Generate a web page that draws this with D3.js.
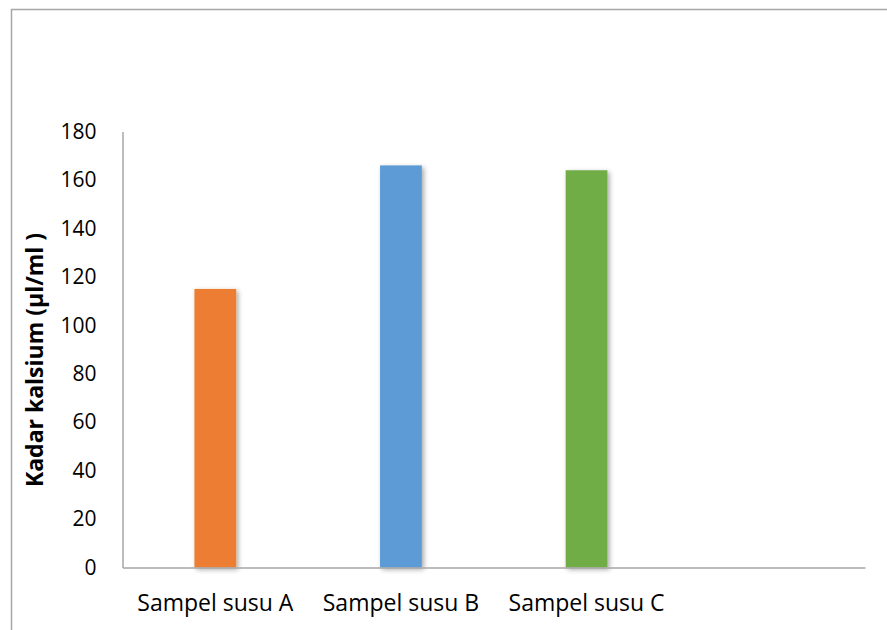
<!DOCTYPE html>
<html>
<head>
<meta charset="utf-8">
<script src="https://cdn.jsdelivr.net/npm/d3@7/dist/d3.min.js"></script>
<style>
  html, body { margin: 0; padding: 0; overflow: hidden; background: #fff; }
  svg { display: block; font-family: 'Open Sans', 'Liberation Sans', sans-serif; }
</style>
</head>
<body>
<svg width="887" height="630"></svg>
<script>
const categories = ['Sampel susu A', 'Sampel susu B', 'Sampel susu C', '']
const values = [115, 166, 164, null]
const barColors = ['#ed7d31', '#5b9bd5', '#70ad47', '#999']
const yTicks = [0, 20, 40, 60, 80, 100, 120, 140, 160, 180]
const yTitle = 'Kadar kalsium (µl/ml )'

const width = 887
const height = 630
const margin = { top: 131.5, right: 22, bottom: 62.5, left: 122.5 }

const svg = d3.select('svg')

// outer frame: only top and left edges fall inside the picture
svg.append('path')
  .attr('d', 'M11.5,640V9.5H900')
  .attr('fill', 'none')
  .attr('stroke', '#a6a6a6')
  .attr('stroke-width', 1.5)

// soft shadow behind bars
const defs = svg.append('defs')
const filter = defs.append('filter')
  .attr('id', 'shadow')
  .attr('x', '-30%').attr('y', '-10%')
  .attr('width', '160%').attr('height', '130%')
filter.append('feDropShadow')
  .attr('dx', 2)
  .attr('dy', 2)
  .attr('stdDeviation', 2.5)
  .attr('flood-color', '#000')
  .attr('flood-opacity', 0.35)

// scales
const xScale = d3.scaleBand()
  .domain(categories.map((c, i) => i))
  .range([margin.left, width - margin.right])
  .paddingInner(0.775)
  .paddingOuter(0.3875)

const yScale = d3.scaleLinear()
  .domain([0, 180])
  .range([height - margin.bottom, margin.top])

// bars
svg.append('g')
  .selectAll('rect')
  .data(values.map((v, i) => ({ v, i })).filter(d => d.v != null))
  .enter().append('rect')
  .attr('x', d => xScale(d.i))
  .attr('width', xScale.bandwidth())
  .attr('y', d => yScale(d.v))
  .attr('height', d => yScale(0) - yScale(d.v))
  .attr('fill', d => barColors[d.i])
  .attr('filter', 'url(#shadow)')

// y axis
const yAxis = d3.axisLeft(yScale)
  .tickValues(yTicks)
  .tickSize(0)
  .tickPadding(26)

const gy = svg.append('g')
  .attr('transform', `translate(${margin.left},0)`)
  .call(yAxis)
gy.select('.domain').attr('stroke', '#a6a6a6').attr('stroke-width', 1.5)
gy.selectAll('text')
  .attr('font-size', 21)
  .attr('fill', '#000')
  .attr('font-family', 'Open Sans, sans-serif')

// x axis
const xAxis = d3.axisBottom(xScale)
  .tickFormat(i => categories[i])
  .tickSize(0)
  .tickPadding(27)

const gx = svg.append('g')
  .attr('transform', `translate(0,${height - margin.bottom})`)
  .call(xAxis)
gx.select('.domain').attr('stroke', '#a6a6a6').attr('stroke-width', 1.5)
gx.selectAll('text')
  .attr('font-size', 23)
  .attr('fill', '#000')
  .attr('font-family', 'Open Sans, sans-serif')

// y title
svg.append('text')
  .attr('transform', 'translate(43,360) rotate(-90)')
  .attr('text-anchor', 'middle')
  .attr('font-size', 23)
  .attr('font-weight', 'bold')
  .attr('fill', '#000')
  .text(yTitle)
</script>
</body>
</html>
